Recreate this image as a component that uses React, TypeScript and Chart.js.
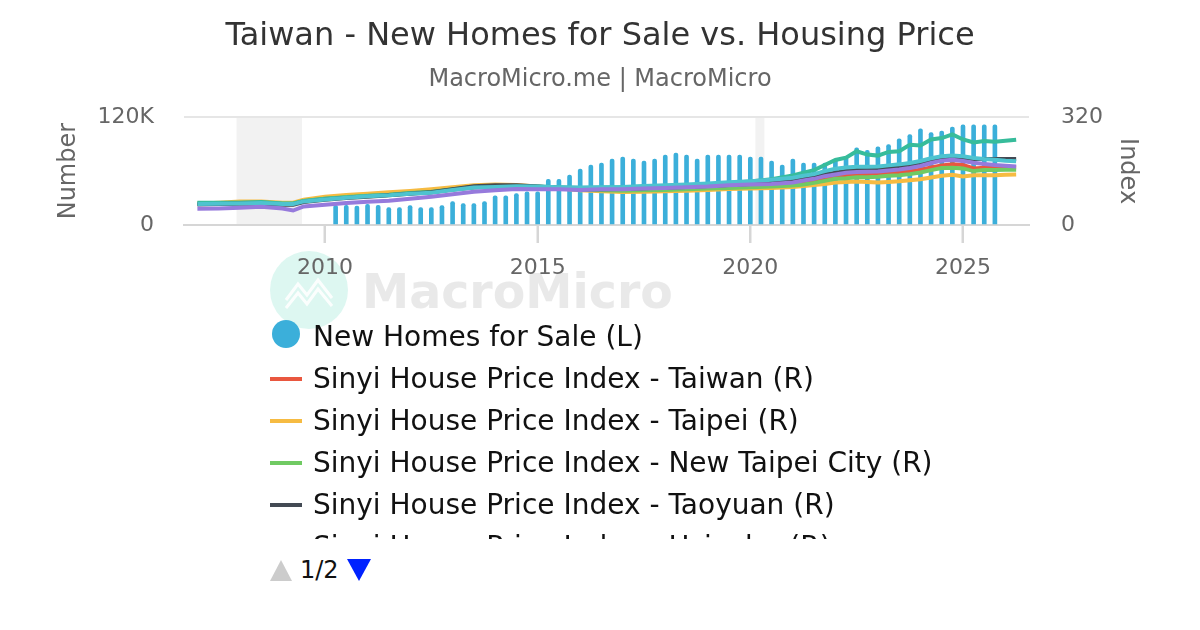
import React, { useEffect, useRef } from 'react';
import { Chart, registerables } from 'chart.js';

Chart.register(...registerables);

const FONT = '"DejaVu Sans", "Liberation Sans", sans-serif';

// ---------- data ----------
const chartTitle = 'Taiwan - New Homes for Sale vs. Housing Price';
const chartSubtitle = 'MacroMicro.me | MacroMicro';
const leftAxisTitle = 'Number';
const rightAxisTitle = 'Index';

const xTickValues = [2010, 2015, 2020, 2025];
const leftTickValues = [0, 120000];
const leftTickLabels = ['0', '120K'];
const rightTickValues = [0, 320];
const rightTickLabels = ['0', '320'];

// recession shading [start, end] in decimal years
const recessionStarts = [2007.92, 2020.12];
const recessionEnds = [2009.46, 2020.33];

const barLabel = 'New Homes for Sale (L)';
const barDates = [
  2010.25, 2010.5, 2010.75, 2011.0, 2011.25, 2011.5, 2011.75, 2012.0, 2012.25, 2012.5,
  2012.75, 2013.0, 2013.25, 2013.5, 2013.75, 2014.0, 2014.25, 2014.5, 2014.75, 2015.0,
  2015.25, 2015.5, 2015.75, 2016.0, 2016.25, 2016.5, 2016.75, 2017.0, 2017.25, 2017.5,
  2017.75, 2018.0, 2018.25, 2018.5, 2018.75, 2019.0, 2019.25, 2019.5, 2019.75, 2020.0,
  2020.25, 2020.5, 2020.75, 2021.0, 2021.25, 2021.5, 2021.75, 2022.0, 2022.25, 2022.5,
  2022.75, 2023.0, 2023.25, 2023.5, 2023.75, 2024.0, 2024.25, 2024.5, 2024.75, 2025.0,
  2025.25, 2025.5, 2025.75,
];
const newHomesForSale = [
  22000, 22000, 21000, 23000, 22000, 19400, 19400, 21600, 19400, 19400,
  21600, 26000, 23900, 23900, 26000, 32400, 32400, 35000, 37000, 37000,
  50700, 50700, 55500, 62200, 66700, 69000, 73400, 75700, 73400, 71200,
  73400, 77900, 80100, 77900, 73400, 77900, 77900, 77900, 77900, 75700,
  75700, 71200, 66700, 73400, 69000, 69000, 69000, 73400, 75700, 86000,
  83000, 87000, 89500, 96000, 100700, 107000, 103000, 104600, 109000, 111500,
  111500, 111500, 111500,
];

const lineDates = [
  2007.0, 2007.5, 2008.0, 2008.5, 2009.0, 2009.25, 2009.5, 2010.0, 2010.5, 2011.0,
  2011.5, 2012.0, 2012.5, 2013.0, 2013.5, 2014.0, 2014.5, 2015.0, 2015.5, 2016.0,
  2016.5, 2017.0, 2017.5, 2018.0, 2018.5, 2019.0, 2019.5, 2020.0, 2020.5, 2021.0,
  2021.25, 2021.5, 2021.75, 2022.0, 2022.25, 2022.5, 2022.75, 2023.0, 2023.25, 2023.5,
  2023.75, 2024.0, 2024.25, 2024.5, 2024.75, 2025.0, 2025.25, 2025.5, 2025.75, 2026.0,
  2026.25,
];
const sinyiTaiwan = [
  63, 64, 65, 66, 62, 62, 70, 77, 82, 86,
  89, 94, 98, 105, 112, 115, 116, 113, 110, 106,
  105, 105, 106, 108, 110, 112, 114, 116, 119, 122,
  125, 130, 137, 143, 147, 150, 150, 151, 153, 156,
  159, 164, 171, 177, 180, 178, 168, 170, 171, 172,
  171,
];
const sinyiTaipei = [
  63, 66, 70, 70, 66, 66, 75, 84, 89, 93,
  97, 101, 106, 112, 118, 120, 119, 114, 109, 103,
  100, 98, 99, 100, 102, 104, 107, 108, 110, 113,
  116, 119, 122, 126, 128, 129, 128, 126, 128, 130,
  133, 136, 141, 146, 149, 144, 148, 148, 148, 149,
  150,
];
const sinyiNewTaipei = [
  64, 65, 66, 67, 63, 63, 71, 78, 83, 87,
  90, 95, 99, 106, 113, 116, 116, 113, 110, 105,
  103, 102, 103, 104, 106, 108, 110, 112, 114, 117,
  120, 125, 131, 137, 139, 142, 142, 143, 146, 148,
  151, 156, 163, 169, 170, 168, 160, 163, 163, 164,
  164,
];
const sinyiTaoyuan = [
  61, 62, 63, 63, 60, 60, 68, 75, 80, 84,
  88, 93, 97, 106, 115, 118, 118, 114, 110, 106,
  106, 107, 109, 111, 113, 116, 119, 122, 126, 132,
  138, 145, 150, 155, 160, 163, 163, 165, 168, 172,
  176, 182, 190, 196, 200, 198, 196, 196, 196, 196,
  196,
];
const sinyiHsinchu = [
  62, 63, 64, 65, 62, 62, 70, 76, 81, 85,
  88, 93, 96, 104, 111, 113, 115, 114, 112, 111,
  112, 113, 116, 118, 120, 123, 127, 130, 134, 140,
  146, 151, 160, 167, 171, 173, 173, 174, 177, 180,
  184, 190, 198, 204, 206, 204, 199, 196, 194, 191,
  189,
];
const sinyiTaichung = [
  66, 66, 66, 68, 64, 64, 71, 78, 82, 86,
  89, 94, 97, 105, 111, 114, 116, 114, 112, 110,
  111, 112, 114, 116, 118, 121, 125, 129, 136, 147,
  155, 163, 178, 193, 200, 219, 209, 206, 217, 219,
  238, 236, 254, 258, 269, 254, 245, 249, 247, 250,
  253,
];
const sinyiKaohsiung = [
  48, 49, 51, 54, 49, 43, 55, 60, 65, 69,
  72, 78, 84, 91, 99, 103, 107, 106, 106, 104,
  106, 106, 108, 110, 112, 114, 118, 120, 122, 126,
  132, 137, 145, 150, 155, 157, 158, 159, 162, 165,
  169, 175, 184, 191, 194, 190, 185, 181, 178, 176,
  174,
];

const lineLabels = [
  'Sinyi House Price Index - Taiwan (R)',
  'Sinyi House Price Index - Taipei (R)',
  'Sinyi House Price Index - New Taipei City (R)',
  'Sinyi House Price Index - Taoyuan (R)',
  'Sinyi House Price Index - Hsinchu (R)',
  'Sinyi House Price Index - Taichung (R)',
  'Sinyi House Price Index - Kaohsiung (R)',
];
const lineSeries = [sinyiTaiwan, sinyiTaipei, sinyiNewTaipei, sinyiTaoyuan, sinyiHsinchu, sinyiTaichung, sinyiKaohsiung];
const lineColors = ['#E9573F', '#F6BB42', '#70CA63', '#434A54', '#4EC3CF', '#37BC9B', '#967ADC'];
const lineOrder = [5, 6, 4, 2, 1, 3, 0];
const barColor = '#3BAFDA';

// ---------- helpers ----------
const toPoints = (xs: number[], ys: number[]) => xs.map((x, i) => ({ x, y: ys[i] }));

const backgroundPlugin = {
  id: 'mmBackground',
  beforeDraw(chart: any) {
    const { ctx, chartArea, scales } = chart;
    ctx.save();
    // watermark logo
    ctx.fillStyle = 'rgba(150, 230, 210, 0.32)';
    ctx.beginPath();
    ctx.arc(309, 290, 39, 0, Math.PI * 2);
    ctx.fill();
    ctx.strokeStyle = 'rgba(255,255,255,0.9)';
    ctx.lineWidth = 3;
    ctx.beginPath();
    ctx.moveTo(286, 300);
    ctx.lineTo(298, 284);
    ctx.lineTo(307, 295);
    ctx.lineTo(318, 280);
    ctx.lineTo(332, 298);
    ctx.stroke();
    ctx.beginPath();
    ctx.moveTo(286, 308);
    ctx.lineTo(298, 293);
    ctx.lineTo(307, 304);
    ctx.lineTo(318, 289);
    ctx.lineTo(332, 306);
    ctx.stroke();
    // watermark text
    let size = 52;
    ctx.font = `bold ${size}px ${FONT}`;
    const w = ctx.measureText('MacroMicro').width;
    size = size * (311 / w);
    ctx.font = `bold ${size}px ${FONT}`;
    ctx.fillStyle = 'rgba(215,215,215,0.55)';
    ctx.textBaseline = 'alphabetic';
    ctx.textAlign = 'left';
    ctx.fillText('MacroMicro', 362, 308);
    // recession shading
    const x = scales.x;
    ctx.fillStyle = '#f2f2f2';
    recessionStarts.forEach((s, i) => {
      const x0 = x.getPixelForValue(s);
      const x1 = x.getPixelForValue(recessionEnds[i]);
      ctx.fillRect(x0, chartArea.top, x1 - x0, chartArea.bottom - chartArea.top);
    });
    ctx.restore();
  },
  afterDraw(chart: any) {
    // x-axis tick marks below the axis line
    const { ctx, chartArea, scales } = chart;
    ctx.save();
    ctx.strokeStyle = '#d6d6d6';
    ctx.lineWidth = 2;
    xTickValues.forEach((v) => {
      const px = Math.round(scales.x.getPixelForValue(v));
      ctx.beginPath();
      ctx.moveTo(px, chartArea.bottom);
      ctx.lineTo(px, chartArea.bottom + 18);
      ctx.stroke();
    });
    ctx.restore();
  },
};

function buildConfig(): any {
  const datasets: any[] = [
    {
      type: 'bar',
      label: barLabel,
      data: toPoints(barDates, newHomesForSale),
      backgroundColor: barColor,
      barThickness: 4,
      borderRadius: 2,
      borderSkipped: 'start',
      yAxisID: 'yL',
      order: 10,
    },
    ...lineSeries.map((vals, i) => ({
      type: 'line',
      label: lineLabels[i],
      data: toPoints(lineDates, vals),
      borderColor: lineColors[i],
      backgroundColor: lineColors[i],
      borderWidth: 4,
      pointRadius: 0,
      tension: 0,
      fill: false,
      yAxisID: 'yR',
      order: lineOrder[i],
    })),
  ];

  const tickFont = { family: FONT, size: 22 };

  return {
    type: 'line',
    data: { datasets },
    plugins: [backgroundPlugin],
    options: {
      animation: false,
      responsive: false,
      events: [],
      layout: { padding: 0 },
      plugins: {
        legend: { display: false },
        tooltip: { enabled: false },
        title: {
          display: true,
          text: chartTitle,
          color: '#333333',
          font: { family: FONT, size: 32, weight: 'normal' },
          padding: { top: 17, bottom: 0 },
        },
        subtitle: {
          display: true,
          text: chartSubtitle,
          color: '#666666',
          font: { family: FONT, size: 24, weight: 'normal' },
          padding: { top: 10, bottom: 23 },
        },
      },
      scales: {
        x: {
          type: 'linear',
          min: 2006.685,
          max: 2026.552,
          offset: false,
          afterBuildTicks: (s: any) => {
            s.ticks = xTickValues.map((v) => ({ value: v }));
          },
          afterFit: (s: any) => {
            s.height = 105;
          },
          ticks: {
            callback: (v: any) => String(v),
            font: tickFont,
            color: '#666666',
            padding: 12,
            maxRotation: 0,
            autoSkip: false,
          },
          grid: {
            offset: false,
            drawOnChartArea: false,
            drawTicks: true,
            tickLength: 18,
            tickWidth: 2,
            color: '#d6d6d6',
            tickColor: '#d6d6d6',
          },
          border: { display: true, color: '#d6d6d6', width: 2 },
        },
        yL: {
          type: 'linear',
          position: 'left',
          min: 0,
          max: 120000,
          afterBuildTicks: (s: any) => {
            s.ticks = leftTickValues.map((v) => ({ value: v }));
          },
          afterFit: (s: any) => {
            s.width = 184;
          },
          ticks: {
            callback: (_v: any, i: number) => leftTickLabels[i],
            font: tickFont,
            color: '#666666',
            padding: 30,
          },
          grid: { drawTicks: false, color: '#e6e6e6', lineWidth: 2 },
          border: { display: false },
          title: {
            display: true,
            text: leftAxisTitle,
            color: '#666666',
            font: { family: FONT, size: 24 },
            padding: { top: 54, bottom: 0 },
          },
        },
        yR: {
          type: 'linear',
          position: 'right',
          min: 0,
          max: 320,
          afterBuildTicks: (s: any) => {
            s.ticks = rightTickValues.map((v) => ({ value: v }));
          },
          afterFit: (s: any) => {
            s.width = 171;
          },
          ticks: {
            callback: (_v: any, i: number) => rightTickLabels[i],
            font: tickFont,
            color: '#666666',
            padding: 32,
          },
          grid: { display: false, drawTicks: false },
          border: { display: false },
          title: {
            display: true,
            text: rightAxisTitle,
            color: '#666666',
            font: { family: FONT, size: 24 },
            padding: { top: 58, bottom: 0 },
          },
        },
      },
    },
  };
}

const legendItems = [
  { label: barLabel, color: barColor, kind: 'circle' },
  ...lineLabels.map((l, i) => ({ label: l, color: lineColors[i], kind: 'line' })),
];

export default function App() {
  const canvasRef = useRef<HTMLCanvasElement>(null);

  useEffect(() => {
    if (!canvasRef.current) return;
    const chart = new Chart(canvasRef.current, buildConfig());
    return () => chart.destroy();
  }, []);

  return (
    <div
      style={{
        position: 'fixed',
        left: 0,
        top: 0,
        width: 1200,
        height: 630,
        background: '#ffffff',
        overflow: 'hidden',
        fontFamily: FONT,
      }}
    >
      <canvas
        ref={canvasRef}
        width={1200}
        height={330}
        style={{ position: 'absolute', left: 0, top: 0, width: 1200, height: 330, display: 'block' }}
      />
      <div
        style={{
          position: 'absolute',
          left: 270,
          top: 316,
          width: 900,
          height: 223,
          overflow: 'hidden',
        }}
      >
        {legendItems.map((it, i) => (
          <div key={i} style={{ display: 'flex', alignItems: 'center', height: 42 }}>
            <div style={{ width: 32, marginRight: 11, position: 'relative', height: 42 }}>
              {it.kind === 'circle' ? (
                <div
                  style={{
                    position: 'absolute',
                    left: 2,
                    top: 4,
                    width: 28,
                    height: 28,
                    borderRadius: '50%',
                    background: it.color,
                  }}
                />
              ) : (
                <div
                  style={{
                    position: 'absolute',
                    left: 0,
                    top: 19,
                    width: 32,
                    height: 4,
                    background: it.color,
                  }}
                />
              )}
            </div>
            <span style={{ fontSize: 28, lineHeight: '42px', color: '#111111', whiteSpace: 'nowrap' }}>
              {it.label}
            </span>
          </div>
        ))}
      </div>
      <div style={{ position: 'absolute', left: 270, top: 560, width: 0, height: 0, borderLeft: '11.5px solid transparent', borderRight: '11.5px solid transparent', borderBottom: '21px solid #cccccc' }} />
      <span style={{ position: 'absolute', left: 300, top: 556, fontSize: 24, lineHeight: '28px', color: '#111111' }}>1/2</span>
      <div style={{ position: 'absolute', left: 347, top: 559, width: 0, height: 0, borderLeft: '12px solid transparent', borderRight: '12px solid transparent', borderTop: '22px solid #0022ff' }} />
    </div>
  );
}
